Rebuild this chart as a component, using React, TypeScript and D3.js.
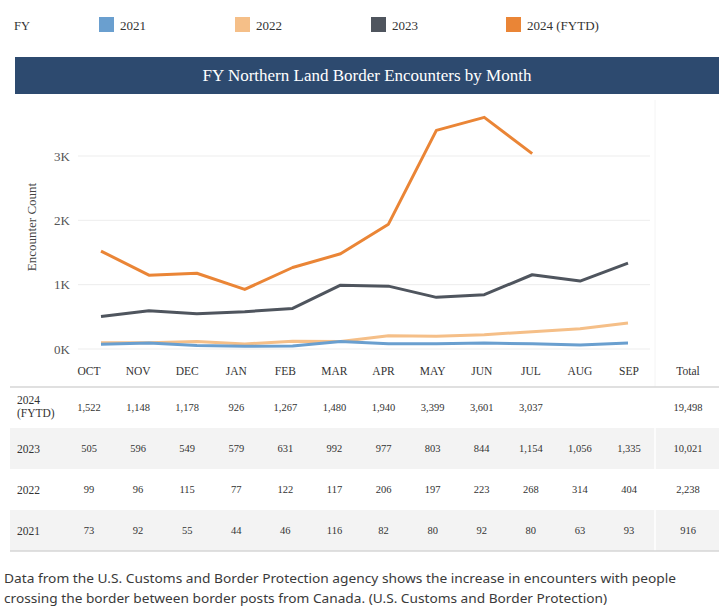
import React from "react";
import * as d3 from "d3";

const months = ["OCT", "NOV", "DEC", "JAN", "FEB", "MAR", "APR", "MAY", "JUN", "JUL", "AUG", "SEP"];
const seriesNames = ["2021", "2022", "2023", "2024 (FYTD)"];
const v2021 = [73, 92, 55, 44, 46, 116, 82, 80, 92, 80, 63, 93];
const v2022 = [99, 96, 115, 77, 122, 117, 206, 197, 223, 268, 314, 404];
const v2023 = [505, 596, 549, 579, 631, 992, 977, 803, 844, 1154, 1056, 1335];
const v2024: (number | null)[] = [1522, 1148, 1178, 926, 1267, 1480, 1940, 3399, 3601, 3037, null, null];
const totals = [916, 2238, 10021, 19498];
const yTicks = [0, 1000, 2000, 3000];
const colors = ["#6a9fcf", "#f5bf88", "#4f555e", "#ea8536"];

const W = 719;
const H = 616;
const SERIF = { fontFamily: "Liberation Serif" };
const SANS = { fontFamily: "Noto Sans" };

export default function App() {
  const xLine = d3.scalePoint<string>().domain(months).range([101, 628]);
  const xCol = d3.scalePoint<string>().domain(months).range([89, 629]);
  const y = d3.scaleLinear().domain([0, 3000]).range([349, 156]);
  const fmt = d3.format(",");

  const all = [v2021, v2022, v2023, v2024];
  const line = d3
    .line<number | null>()
    .defined((d) => d != null)
    .x((_, i) => xLine(months[i])!)
    .y((d) => y(d as number));

  const legendX = [99, 235, 371, 506];
  const tableRows = [
    { label: ["2024", "(FYTD)"], vals: v2024, total: totals[3], shade: false },
    { label: ["2023"], vals: v2023, total: totals[2], shade: true },
    { label: ["2022"], vals: v2022, total: totals[1], shade: false },
    { label: ["2021"], vals: v2021, total: totals[0], shade: true },
  ];
  const rowTop = 387;
  const rowH = 41;
  const drawOrder = [3, 2, 1, 0];

  return (
    <div style={{ position: "absolute", left: 0, top: 0 }}>
      <svg width={W} height={H} style={{ display: "block", background: "#fff" }}>
        {/* Legend */}
        <text x={14} y={30} fontSize={12.5} fill="#333" style={SERIF}>FY</text>
        {seriesNames.map((n, i) => (
          <g key={n}>
            <rect x={legendX[i]} y={17} width={15} height={15} fill={colors[i]} />
            <text x={legendX[i] + 21} y={30} fontSize={13} fill="#333" style={SERIF}>{n}</text>
          </g>
        ))}

        {/* Title banner */}
        <rect x={15} y={57} width={W - 15} height={37} fill="#2d4a6f" />
        <text x={367} y={81} textAnchor="middle" fontSize={17} fill="#fff" style={SERIF}>
          FY Northern Land Border Encounters by Month
        </text>

        {/* Grid */}
        {yTicks.map((t) => (
          <g key={t}>
            <line x1={78} x2={650} y1={y(t)} y2={y(t)} stroke="#ededed" strokeWidth={1} />
            <text x={70} y={y(t) + 4.5} textAnchor="end" fontSize={13} fill="#555" style={SERIF}>
              {t / 1000}K
            </text>
          </g>
        ))}
        <text
          transform={`translate(36,227) rotate(-90)`}
          textAnchor="middle"
          fontSize={13}
          fill="#444"
          style={SERIF}
        >
          Encounter Count
        </text>

        {/* Lines */}
        {drawOrder.map((i) => (
          <path
            key={i}
            d={line(all[i] as (number | null)[]) || ""}
            fill="none"
            stroke={colors[i]}
            strokeWidth={3}
            strokeLinejoin="round"
          />
        ))}

        {/* Column headers */}
        {months.map((m) => (
          <text key={m} x={xCol(m)} y={375} textAnchor="middle" fontSize={11.5} fill="#333" style={SERIF}>
            {m}
          </text>
        ))}
        <text x={688} y={375} textAnchor="middle" fontSize={11.5} fill="#333" style={SERIF}>Total</text>

        {/* Table */}
        {tableRows.map((r, ri) => {
          const top = rowTop + ri * rowH;
          const cy = top + rowH / 2 + 3.5;
          return (
            <g key={ri}>
              {r.shade && <rect x={10} y={top} width={W - 10} height={rowH} fill="#f3f3f3" />}
              {r.label.length === 2 ? (
                <>
                  <text x={17} y={top + 17} fontSize={11.5} fill="#333" style={SERIF}>{r.label[0]}</text>
                  <text x={17} y={top + 30} fontSize={11.5} fill="#333" style={SERIF}>{r.label[1]}</text>
                </>
              ) : (
                <text x={17} y={cy + 0.5} fontSize={11.5} fill="#333" style={SERIF}>{r.label[0]}</text>
              )}
              {r.vals.map((v, i) =>
                v == null ? null : (
                  <text key={i} x={xCol(months[i])} y={cy} textAnchor="middle" fontSize={10.5} fill="#333" style={SERIF}>
                    {fmt(v)}
                  </text>
                )
              )}
              <text x={688} y={cy} textAnchor="middle" fontSize={10.5} fill="#333" style={SERIF}>
                {fmt(r.total)}
              </text>
            </g>
          );
        })}
        <line x1={655} x2={655} y1={rowTop} y2={rowTop + 4 * rowH} stroke="#ffffff" strokeWidth={1.5} />
        <line x1={655} x2={655} y1={100} y2={rowTop} stroke="#f4f4f4" strokeWidth={1} />
        <line x1={10} x2={W} y1={rowTop} y2={rowTop} stroke="#d6d6d6" strokeWidth={1.5} />
        <line x1={10} x2={W} y1={rowTop + 4 * rowH} y2={rowTop + 4 * rowH} stroke="#d6d6d6" strokeWidth={1.5} />

        {/* Caption */}
        <text x={4} y={583} fontSize={13} fill="#3a3a3a" style={SANS} textLength={672} lengthAdjust="spacingAndGlyphs">
          Data from the U.S. Customs and Border Protection agency shows the increase in encounters with people
        </text>
        <text x={4} y={603} fontSize={13} fill="#3a3a3a" style={SANS} textLength={603} lengthAdjust="spacingAndGlyphs">
          crossing the border between border posts from Canada. (U.S. Customs and Border Protection)
        </text>
      </svg>
    </div>
  );
}
